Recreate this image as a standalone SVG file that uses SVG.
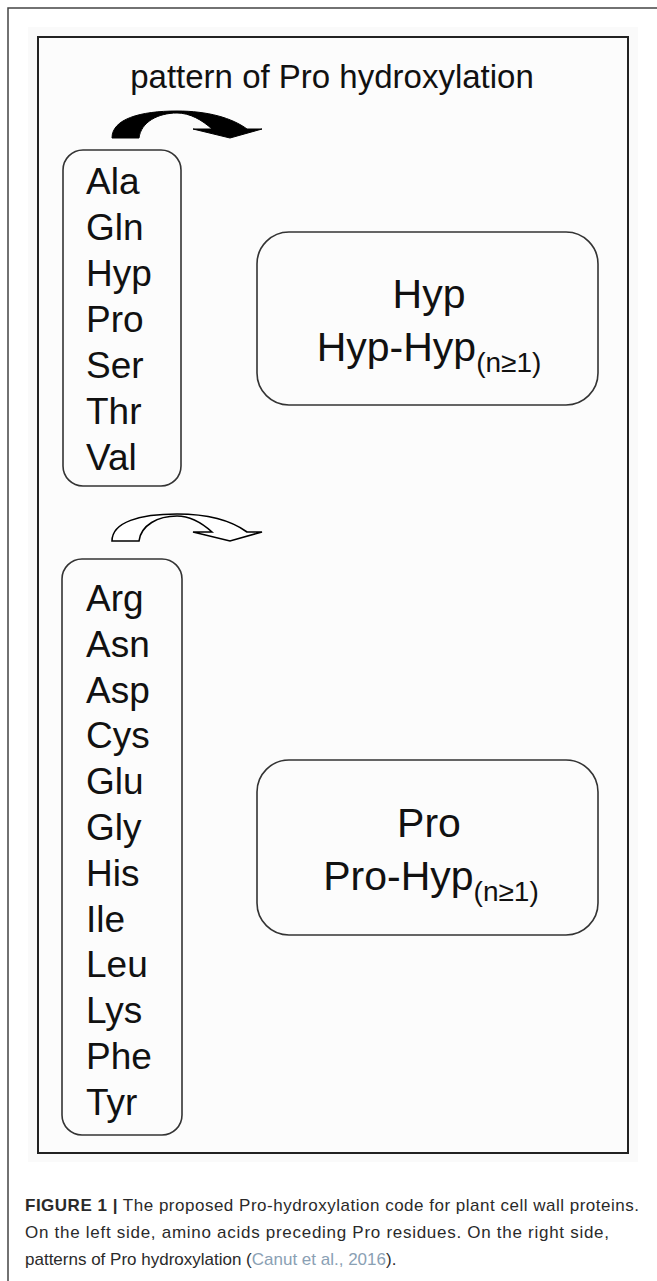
<svg xmlns="http://www.w3.org/2000/svg" width="657" height="1281" viewBox="0 0 657 1281">
<style>
.aa{font-family:"Liberation Sans",Arial,sans-serif;font-size:37px;fill:#111}
.big{font-family:"Liberation Sans",Arial,sans-serif;font-size:41px;fill:#111}
.sub{font-size:28px}
.title{font-family:"Liberation Sans",Arial,sans-serif;font-size:33px;fill:#111}
.cap{font-family:"Liberation Sans",Arial,sans-serif;font-size:17px;fill:#2a2a2a}
.box{fill:none;stroke:#333;stroke-width:1.6}
</style>
<defs>
<path id="arc" d="M112,541 C112,522 140,514 177,514 C208,514 232,521 247,532 L262,532 L230,541 L193,532 L212,532 C202,523 190,516 177,516 C158,516 141,525 139,541 Z"/>
</defs>
<rect width="657" height="1281" fill="#fff"/>
<path d="M8,1281 V8 H657" fill="none" stroke="#444" stroke-width="1.5"/>
<rect x="28" y="27" width="610" height="1135" fill="#fafafa"/>
<rect x="38" y="37" width="590" height="1116" fill="#fcfcfc" stroke="#222" stroke-width="2"/>
<text class="title" x="332" y="88" text-anchor="middle">pattern of Pro hydroxylation</text>
<g id="connectors">
<use href="#arc" transform="translate(0,-403)" fill="#000" stroke="#000" stroke-width="1"/>
<use href="#arc" fill="#fff" stroke="#000" stroke-width="1.6"/>
</g>
<g id="left1">
<rect class="box" x="63" y="150" width="118" height="336" rx="20"/>
<text class="aa" x="86" y="194">Ala</text>
<text class="aa" x="86" y="240">Gln</text>
<text class="aa" x="86" y="286">Hyp</text>
<text class="aa" x="86" y="332">Pro</text>
<text class="aa" x="86" y="378">Ser</text>
<text class="aa" x="86" y="424">Thr</text>
<text class="aa" x="86" y="470">Val</text>
</g>
<g id="left2">
<rect class="box" x="62" y="559" width="120" height="576" rx="20"/>
<text class="aa" x="86" y="611">Arg</text>
<text class="aa" x="86" y="657">Asn</text>
<text class="aa" x="86" y="703">Asp</text>
<text class="aa" x="86" y="748">Cys</text>
<text class="aa" x="86" y="794">Glu</text>
<text class="aa" x="86" y="840">Gly</text>
<text class="aa" x="86" y="886">His</text>
<text class="aa" x="86" y="932">Ile</text>
<text class="aa" x="86" y="977">Leu</text>
<text class="aa" x="86" y="1023">Lys</text>
<text class="aa" x="86" y="1069">Phe</text>
<text class="aa" x="86" y="1115">Tyr</text>
</g>
<g id="right1">
<rect class="box" x="257" y="232" width="341" height="173" rx="32"/>
<text class="big" x="429" y="308" text-anchor="middle">Hyp</text>
<text class="big" x="429" y="361" text-anchor="middle">Hyp-Hyp<tspan class="sub" dy="11">(n≥1)</tspan></text>
</g>
<g id="right2">
<rect class="box" x="257" y="760" width="341" height="175" rx="32"/>
<text class="big" x="429" y="837" text-anchor="middle">Pro</text>
<text class="big" x="431" y="890" text-anchor="middle">Pro-Hyp<tspan class="sub" dy="11">(n≥1)</tspan></text>
</g>
<g id="caption">
<text class="cap" x="25" y="1211" textLength="614" lengthAdjust="spacing"><tspan font-weight="bold">FIGURE 1 |</tspan> The proposed Pro-hydroxylation code for plant cell wall proteins.</text>
<text class="cap" x="25" y="1238" textLength="584" lengthAdjust="spacing">On the left side, amino acids preceding Pro residues. On the right side,</text>
<text class="cap" x="25" y="1265">patterns of Pro hydroxylation (<tspan fill="#8aa0b4">Canut et al., 2016</tspan>).</text>
</g>
</svg>
